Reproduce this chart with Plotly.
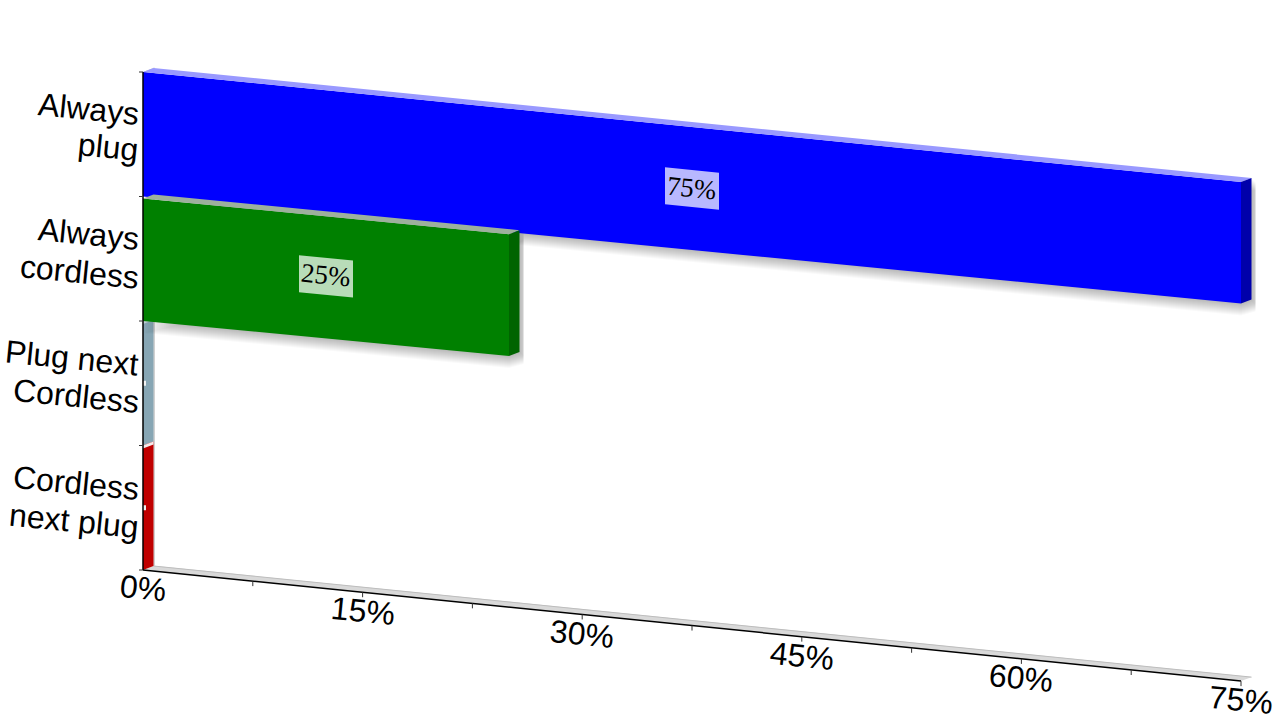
import numpy as np
import plotly.graph_objects as go

# ---- data (bottom row first) ----
categories = [["Cordless", "next plug"], ["Plug next", "Cordless"], ["Always", "cordless"], ["Always", "plug"]]
values = [0, 0, 25, 75]
front_colors = ["#C00000", "#87A6B4", "#008000", "#0000FF"]
top_colors = ["#F4ECEC", "#C4D0D6", "#9DB09D", "#9999FF"]
side_colors = ["#C00000", "#87A6B4", "#006400", "#0000AA"]
top_insets = [0, 0, 2, 0]
label_texts = ["", "", "25%", "75%"]
tick_values = [0, 15, 30, 45, 60, 75]
tick_labels = ["0%", "15%", "30%", "45%", "60%", "75%"]
tick_marks = [7.5, 15, 22.5, 30, 37.5, 45, 52.5, 60, 67.5, 75]

# ---- projection helpers ----
W, H = 1280, 720
X0, Y0 = 143, 570
SX = 1098 / 75
RY = 124.5
DX, DY = 10.5, 4


def slope(r):
    return np.interp(r, [0, 2, 3, 4], [0.1012, 0.0955, 0.0975, 0.1002])


def pr(v, r, d=0.0, px=0.0, py=0.0):
    """Value/row/depth to axis coordinates, with optional screen-pixel offset (py down)."""
    x = v + (d * DX + px) / SX
    y = r - slope(r) * v * SX / RY + (d * DY - py) / RY
    return x, y


def poly(points, color, opacity=1.0):
    xs = [p[0] for p in points] + [points[0][0]]
    ys = [p[1] for p in points] + [points[0][1]]
    return go.Scatter(x=xs, y=ys, mode="lines", fill="toself", fillcolor=color,
                      line=dict(width=0), opacity=opacity, hoverinfo="skip", showlegend=False)


def line(points, color, width):
    return go.Scatter(x=[p[0] for p in points], y=[p[1] for p in points], mode="lines",
                      line=dict(color=color, width=width), hoverinfo="skip", showlegend=False)


fig = go.Figure()

# floor and back-wall sliver
vmax = tick_values[-1]
fig.add_trace(poly([pr(0, 0), pr(vmax, 0), pr(vmax, 0, 1.05), pr(0, 0, 1.05)], "#D9D9D9"))
fig.add_trace(line([pr(0, 0, 1), pr(vmax, 0, 1)], "#BDBDBD", 1))
fig.add_trace(line([pr(0, 0, 1.05), pr(0, 4, 1.05)], "#C4C4C4", 1.5))
fig.add_trace(poly([pr(0, 4), pr(0, 4, 1, 0, 0), pr(0, 4, 1, 0, 1.5), pr(0, 4, 0, 0, 2)], "#BEBEBE"))

# bars; the zero-height slate bar goes behind the green one
for i in [3, 1, 2, 0]:
    v = values[i]
    r0, r1 = i, i + 1
    t = top_insets[i]
    if v > 0:
        for off in range(1, 13):
            fig.add_trace(poly([pr(0, r0, 0, 0, off), pr(v, r0, 0, 0, off),
                                pr(v, r0, 1, min(off, 4), off), pr(v, r1, 1, min(off, 4), off)],
                               "#000000", 0.022))
        fig.add_trace(poly([pr(0, r0), pr(v, r0), pr(v, r1, 0, 0, t), pr(0, r1, 0, 0, t)], front_colors[i]))
        fig.add_trace(poly([pr(0, r1, 0, 0, t), pr(v, r1, 0, 0, t), pr(v, r1, 1, 0, t), pr(0, r1, 1, 0, t)],
                           top_colors[i]))
        fig.add_trace(poly([pr(v, r0), pr(v, r1, 0, 0, t), pr(v, r1, 1, 0, t), pr(v, r0, 1)], side_colors[i]))
    else:
        fig.add_trace(poly([pr(v, r0), pr(v, r1), pr(v, r1, 1), pr(v, r0, 1)], side_colors[i]))
        fig.add_trace(poly([pr(0, r1), pr(0, r1, 1), pr(0, r1, 1, 0, 3), pr(0, r1, 0, 0, 3)], top_colors[i]))

# data label boxes
for i in range(4):
    v = values[i]
    if v > 0:
        c = v / 2
        cr = i + 0.5
        hw, hh = 27, 18.5
        pts = [pr(c, cr, 0, -hw, -hh - hw * 0.1), pr(c, cr, 0, hw, -hh + hw * 0.1),
               pr(c, cr, 0, hw, hh + hw * 0.1), pr(c, cr, 0, -hw, hh - hw * 0.1)]
        fig.add_trace(poly(pts, "#FFFFFF", 0.72))
    else:
        fig.add_trace(poly([pr(0, i + 0.5, 0, 0, -2.5), pr(0, i + 0.5, 0, 3, -2.5),
                            pr(0, i + 0.5, 0, 3, 2.5), pr(0, i + 0.5, 0, 0, 2.5)], "#F2F2F2"))

# axes lines and tick marks
fig.add_trace(line([pr(0, 0), pr(0, 4)], "#000000", 1.5))
fig.add_trace(line([pr(0, 0), pr(vmax, 0)], "#000000", 1.5))
for r in range(5):
    fig.add_trace(line([pr(0, r), pr(0, r, 0, -4, 0)], "#333333", 1))
for tk in tick_marks:
    fig.add_trace(line([pr(tk, 0), pr(tk, 0, 0, 0, 5)], "#333333", 1))

ann = []
ANGLE = 5.7
# category labels, one annotation per line
for i, lines in enumerate(categories):
    for j, txt in enumerate(lines):
        x, y = pr(0, i + 0.5)
        ann.append(dict(x=x, y=y, xref="x", yref="y", text=txt, showarrow=False, textangle=ANGLE,
                        font=dict(family="Liberation Sans", size=32, color="#000000"),
                        xanchor="right", yanchor="middle", xshift=0, yshift=25 - 38 * j,
                        align="right"))
# value tick labels
for tv, lab in zip(tick_values, tick_labels):
    x, y = pr(tv, 0)
    ann.append(dict(x=x, y=y, xref="x", yref="y", text=lab, showarrow=False, textangle=ANGLE,
                    font=dict(family="Liberation Sans", size=32, color="#000000"),
                    xanchor="center", yanchor="top", yshift=4))
# data labels
for i in range(4):
    if label_texts[i]:
        x, y = pr(values[i] / 2, i + 0.5)
        ann.append(dict(x=x, y=y, xref="x", yref="y", text=label_texts[i], showarrow=False,
                        textangle=ANGLE,
                        font=dict(family="Liberation Serif", size=27, color="#000000"),
                        xanchor="center", yanchor="middle", yshift=1))

fig.update_layout(
    width=W, height=H, margin=dict(l=0, r=0, t=0, b=0),
    paper_bgcolor="#FFFFFF", plot_bgcolor="#FFFFFF", showlegend=False,
    xaxis=dict(visible=False, range=[-X0 / SX, (W - X0) / SX], fixedrange=True),
    yaxis=dict(visible=False, range=[(Y0 - H) / RY, Y0 / RY], fixedrange=True),
    annotations=ann,
)
fig.write_html("out.html", config={"displayModeBar": False},
               post_script="document.body.style.margin='0';document.body.style.overflow='hidden';")
